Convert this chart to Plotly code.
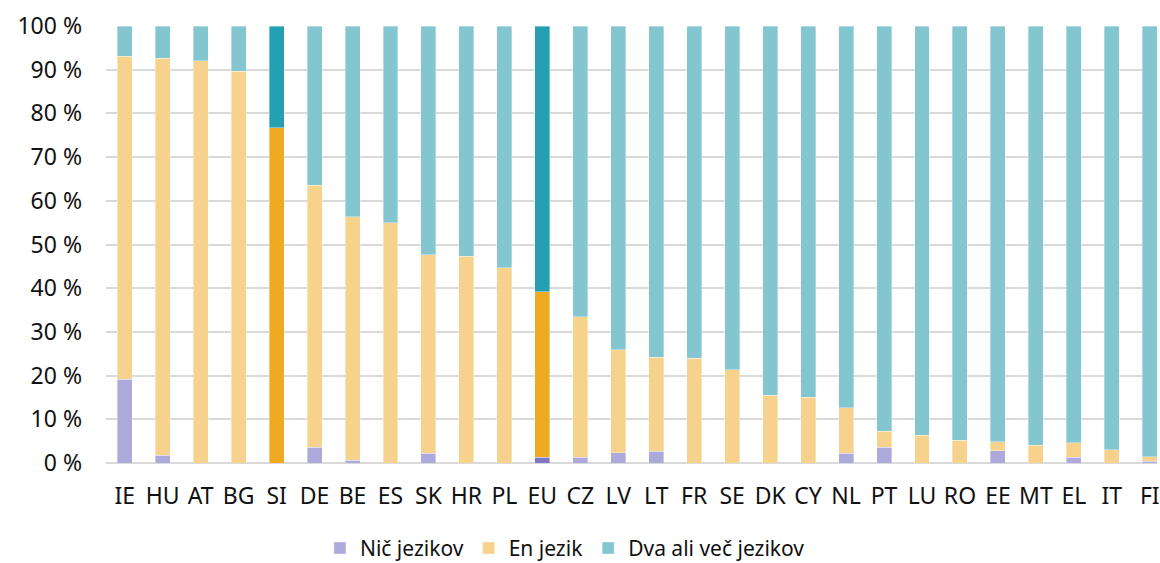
import plotly.graph_objects as go

COUNTRIES = ['IE', 'HU', 'AT', 'BG', 'SI', 'DE', 'BE', 'ES', 'SK', 'HR', 'PL', 'EU', 'CZ', 'LV',
             'LT', 'FR', 'SE', 'DK', 'CY', 'NL', 'PT', 'LU', 'RO', 'EE', 'MT', 'EL', 'IT', 'FI']

# share of pupils learning no / one / two or more foreign languages (%)
NIC = [19.2, 1.8, 0.0, 0.0, 0.0, 3.6, 0.6, 0.0, 2.2, 0.0, 0.0, 1.3, 1.3, 2.4,
       2.7, 0.0, 0.0, 0.0, 0.0, 2.2, 3.6, 0.0, 0.0, 2.8, 0.0, 1.3, 0.0, 0.4]
EN = [73.9, 90.8, 92.0, 89.6, 76.7, 60.0, 55.7, 55.0, 45.4, 47.3, 44.7, 37.9, 32.2, 23.5,
      21.5, 24.0, 21.3, 15.5, 15.0, 10.5, 3.7, 6.4, 5.2, 2.1, 4.1, 3.3, 3.0, 1.0]
DVA = [6.9, 7.4, 8.0, 10.4, 23.3, 36.4, 43.7, 45.0, 52.4, 52.7, 55.3, 60.8, 66.5, 74.1,
       75.8, 76.0, 78.7, 84.5, 85.0, 87.3, 92.7, 93.6, 94.8, 95.1, 95.9, 95.4, 97.0, 98.6]

Y_TICKS = list(range(0, 101, 10))
Y_LABELS = [f'{v} %' for v in Y_TICKS]

SERIES = ['Nič jezikov', 'En jezik', 'Dva ali več jezikov']
LIGHT = ['#adaadb', '#f7d28c', '#84c6d0']
DARK = ['#7b78c8', '#efaa22', '#24a0b2']
HIGHLIGHT = {'SI', 'EU'}

FONT = 'Noto Sans'
TEXT_COLOR = '#111111'
GRID_COLOR = '#d9d9d9'

fig = go.Figure()
for name, values, light, dark in zip(SERIES, [NIC, EN, DVA], LIGHT, DARK):
    colors = [dark if c in HIGHLIGHT else light for c in COUNTRIES]
    fig.add_trace(go.Bar(
        x=COUNTRIES,
        y=values,
        name=name,
        marker=dict(color=colors, line=dict(color='rgba(255,255,255,0.6)', width=0.6)),
    ))

fig.update_layout(
    barmode='stack',
    bargap=0.606,
    width=1160,
    height=563,
    plot_bgcolor='white',
    paper_bgcolor='white',
    font=dict(family=FONT, size=23, color=TEXT_COLOR),
    margin=dict(l=106, r=0, t=26, b=100),
    xaxis=dict(
        range=[-0.494, 27.19],
        showgrid=False,
        zeroline=False,
        showline=False,
        ticks='',
        ticklabelstandoff=17,
        tickfont=dict(size=23, color=TEXT_COLOR),
    ),
    yaxis=dict(
        range=[0, 100],
        tickmode='array',
        tickvals=Y_TICKS,
        ticktext=Y_LABELS,
        showgrid=True,
        gridcolor=GRID_COLOR,
        gridwidth=2,
        zeroline=True,
        zerolinecolor=GRID_COLOR,
        zerolinewidth=2,
        ticks='',
        ticklabelstandoff=23,
        tickfont=dict(size=23, color=TEXT_COLOR),
    ),
    legend=dict(
        orientation='h',
        xref='container',
        yref='container',
        x=0.487,
        xanchor='center',
        y=0.026,
        yanchor='middle',
        itemwidth=30,
        font=dict(size=21, color=TEXT_COLOR),
        bgcolor='rgba(0,0,0,0)',
        traceorder='normal',
    ),
    showlegend=True,
)

fig.write_html('out.html', config={'displayModeBar': False},
               post_script="document.body.style.margin='0';")
